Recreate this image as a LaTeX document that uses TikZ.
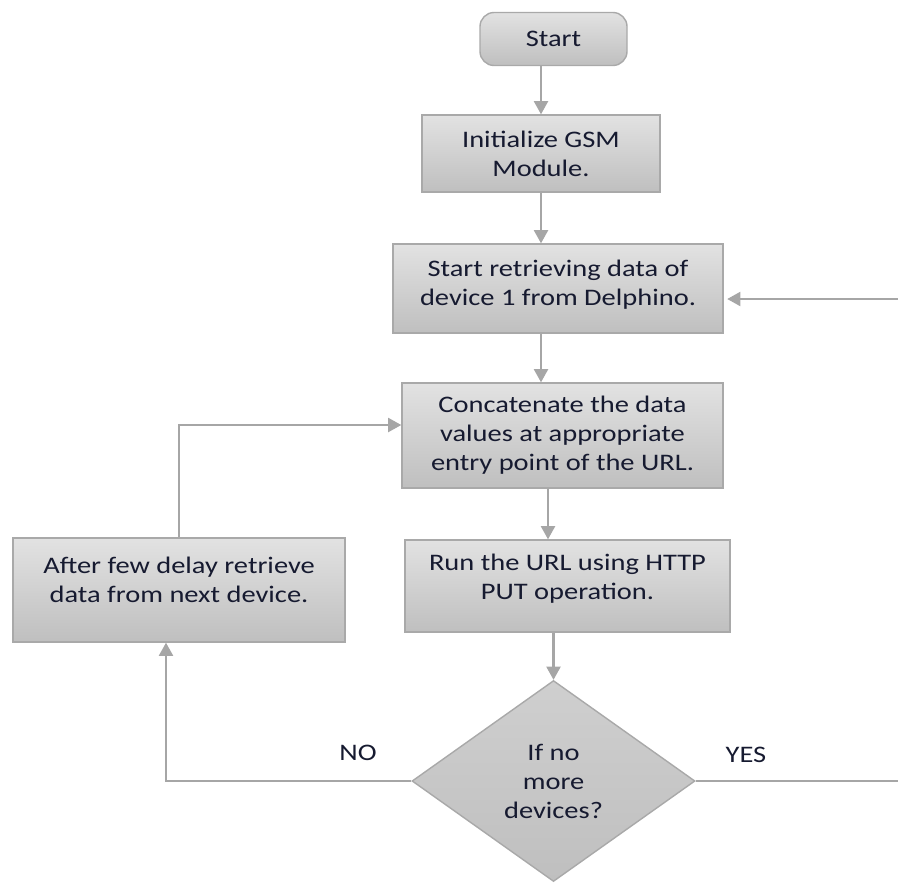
\documentclass[tikz,border=0pt]{standalone}
\usepackage{fontspec}
\setmainfont{Carlito}[FakeStretch=1.2]
\usepackage{xcolor}
\usetikzlibrary{shapes.geometric,arrows.meta}
\definecolor{lineGray}{HTML}{A6A6A6}
\definecolor{boxTop}{HTML}{E2E2E2}
\definecolor{boxBottom}{HTML}{BFBFBF}
\definecolor{boxEdge}{HTML}{A9A9A9}
\definecolor{textNavy}{HTML}{161A30}
\def\px{0.02cm}
\tikzset{
    stepbox/.style={rectangle, draw=boxEdge, line width=0.8pt, top color=boxTop, bottom color=boxBottom,
        text=textNavy, align=center, inner sep=2pt, font=\fontsize{13.5}{16.5}\selectfont},
    startbox/.style={stepbox, rounded corners=8pt},
    askbox/.style={stepbox, diamond, inner sep=0pt, top color=boxBottom!75, bottom color=boxBottom},
    flow/.style={draw=lineGray, line width=1.2pt, -{Triangle[length=7.5pt,width=8pt]}},
    answer/.style={text=textNavy, font=\fontsize{13.5}{16.5}\selectfont},
}
\begin{document}
\begin{tikzpicture}[x=0.02cm, y=-0.02cm]
    \useasboundingbox (0,0) rectangle (898,882);
    \clip (0,0) rectangle (898,882);
    \node [startbox, minimum width={147*\px}, minimum height={53*\px}] (start) at (553.5,39) {Start};
    \node [stepbox, minimum width={238*\px}, minimum height={77*\px}] (init) at (541,153.5) {Initialize GSM\\Module.};
    \node [stepbox, minimum width={330*\px}, minimum height={89*\px}, text depth=6pt] (fetch) at (558,288.5) {Start retrieving data of\\device 1 from Delphino.};
    \node [stepbox, minimum width={321*\px}, minimum height={105*\px}] (concat) at (562.5,435.5) {Concatenate the data\\values at appropriate\\entry point of the URL.};
    \node [stepbox, minimum width={325*\px}, minimum height={92*\px}, text depth=10pt] (run) at (567.5,586) {Run the URL using HTTP\\PUT operation.};
    \node [stepbox, minimum width={332*\px}, minimum height={104*\px}, text depth=12pt] (next) at (179,590) {After few delay retrieve\\data from next device.};
    \node [askbox, minimum width={283*\px}, minimum height={201*\px}] (ask) at (553.5,781) {If no\\more\\devices?};
    \node [answer] (no) at (358,753) {NO};
    \node [answer] (yes) at (746,755) {YES};
    \coordinate (colA) at (541,0);
    \coordinate (colB) at (548,0);
    \coordinate (colC) at (166,0);
    \coordinate (loopTop) at (0,425);
    \coordinate (back) at (910,299);
    \draw [flow] (start.south -| colA) -- (init.north -| colA);
    \draw [flow] (init.south -| colA) -- (fetch.north -| colA);
    \draw [flow] (fetch.south -| colA) -- (concat.north -| colA);
    \draw [flow] (concat.south -| colB) -- (run.north -| colB);
    \draw [flow] (run.south -| ask.north) -- (ask.north);
    \draw [flow] (ask.west) -- (ask.west -| colC) -- (next.south -| colC);
    \draw [flow] (next.north) -- (next.north |- loopTop) -- (concat.west |- loopTop);
    \draw [flow, shorten >=2pt] (ask.east) -- (ask.east -| back) -- (back) -- (back -| fetch.east);
\end{tikzpicture}
\end{document}
